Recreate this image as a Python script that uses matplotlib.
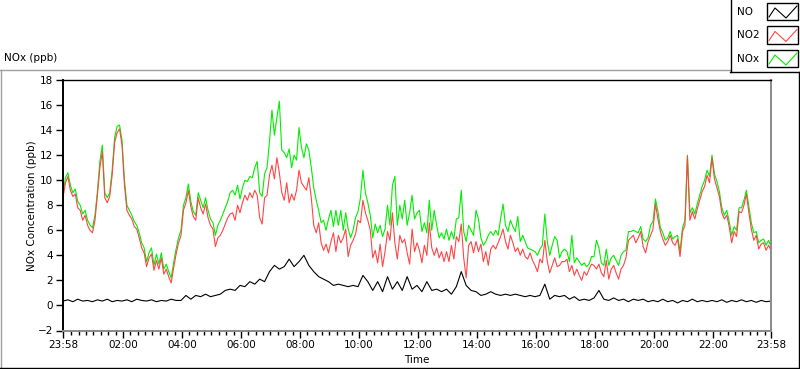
import matplotlib.pyplot as plt
import numpy as np
from matplotlib.lines import Line2D
from matplotlib.patches import Rectangle

# sample times, minutes after 23:58 (start of the record)
t_5min = np.arange(0, 1441, 5)
t_10min = np.arange(0, 1441, 10)

# NO2 (ppb), 5 minute samples, one row per hour
no2 = [
    8.6, 9.8, 10.3, 9.2, 8.7, 8.9, 7.8, 7.6, 6.8, 7.2, 6.4, 6.0,
    5.8, 6.8, 8.8, 11.0, 12.3, 8.6, 8.2, 8.7, 10.4, 13.0, 13.8, 14.1,
    12.8, 9.6, 7.6, 7.2, 6.9, 6.3, 6.1, 5.4, 4.6, 4.2, 3.1, 3.8,
    4.1, 2.8, 3.6, 2.9, 3.8, 2.5, 2.9, 2.3, 1.8, 3.0, 4.1, 5.0,
    5.6, 7.6, 8.2, 9.2, 7.9, 7.1, 6.8, 8.6, 7.8, 7.3, 8.1, 7.0,
    6.4, 6.1, 4.7, 5.4, 5.6, 6.0, 6.5, 7.0, 7.3, 7.4, 6.8, 8.0,
    7.4, 8.2, 8.8, 8.4, 9.0, 8.6, 9.2, 8.8, 7.0, 6.5, 8.6, 8.8,
    10.4, 11.2, 10.1, 11.8, 10.6, 9.0, 8.4, 9.8, 8.2, 8.9, 8.4, 9.2,
    10.8, 9.8, 9.5, 9.2, 10.2, 8.6, 6.4, 5.8, 6.6, 5.0, 4.4, 4.9,
    4.2, 5.1, 5.8, 4.3, 5.6, 5.0, 5.4, 6.1, 3.9, 4.8, 5.2, 5.7,
    6.8, 6.6, 8.4, 7.4, 6.8, 6.0, 3.8, 4.4, 3.4, 4.9, 3.1, 4.3,
    5.9, 5.2, 7.4, 5.0, 3.7, 5.6, 5.0, 5.3, 4.2, 3.3, 6.1, 4.3,
    5.0, 4.4, 3.4, 4.8, 4.0, 6.6, 4.6, 4.0, 4.6, 3.8, 4.3, 3.5,
    4.3, 3.5, 4.8, 3.7, 5.5, 5.1, 6.5, 3.8, 2.2, 4.8, 5.1, 4.2,
    5.1, 4.3, 4.9, 3.5, 4.3, 3.2, 4.5, 4.8, 4.5, 5.0, 5.5, 6.1,
    5.1, 4.5, 5.6, 5.0, 4.3, 4.6, 4.0, 4.5, 3.9, 3.7, 4.2, 3.6,
    3.2, 2.7, 3.7, 3.4, 5.2, 3.5, 2.6, 3.2, 3.8, 3.1, 3.2, 3.5,
    3.5, 3.7, 2.7, 3.2, 2.4, 2.9, 2.4, 2.0, 2.7, 2.4, 2.9, 3.3,
    3.2, 2.9, 3.3, 2.6, 2.3, 3.6, 2.1, 2.9, 3.2, 2.6, 2.1, 2.9,
    3.2, 3.8, 5.2, 5.4, 5.6, 5.0, 5.4, 5.9, 4.7, 4.2, 5.1, 5.6,
    6.1, 8.1, 6.9, 5.9, 5.3, 4.8, 5.1, 5.6, 5.0, 4.8, 5.3, 3.9,
    5.9, 6.4, 11.9, 6.8, 7.5, 6.9, 7.7, 8.4, 9.1, 9.5, 10.4, 9.8,
    11.8, 10.1, 9.4, 8.7, 7.4, 6.9, 7.2, 6.3, 5.0, 5.9, 5.5, 7.5,
    7.4, 8.0, 8.9, 7.4, 6.1, 5.2, 5.6, 4.5, 4.9, 5.0, 4.4, 4.8, 4.4,
]

# NOx (ppb), 5 minute samples
nox = [
    8.9, 10.2, 10.6, 9.6, 9.0, 9.3, 8.3, 8.0, 7.3, 7.6, 6.8, 6.4,
    6.2, 7.2, 9.1, 11.5, 12.8, 9.0, 8.6, 9.0, 10.8, 13.4, 14.3, 14.4,
    13.2, 10.0, 8.0, 7.6, 7.2, 6.7, 6.4, 5.8, 5.0, 4.6, 3.5, 4.2,
    4.6, 3.2, 4.1, 3.3, 4.2, 2.9, 3.3, 2.7, 2.2, 3.4, 4.5, 5.4,
    6.0, 8.0, 8.6, 9.7, 8.3, 7.5, 7.2, 9.0, 8.4, 7.8, 8.6, 7.6,
    6.9, 6.6, 5.6, 6.4, 6.8, 7.3, 7.8, 8.3, 9.0, 9.2, 8.8, 9.6,
    8.5, 9.4, 10.0, 9.9, 10.3, 10.2, 11.0, 11.5, 9.0, 8.7, 10.5, 11.0,
    13.1, 15.6, 13.6, 15.0, 16.3, 12.4, 12.2, 11.8, 12.5, 11.0, 12.0, 11.6,
    14.2, 12.6, 11.8, 12.9, 12.4, 11.0, 9.4, 8.4, 7.6, 6.6, 6.8, 6.0,
    6.9, 7.6, 6.3, 7.6, 6.4, 7.6, 6.0, 7.4, 6.1, 5.4, 6.0, 7.0,
    7.5, 8.6, 10.8, 9.0, 8.2, 7.2, 5.4, 6.5, 5.8, 6.4, 5.5, 6.1,
    8.0, 6.4, 9.6, 10.3, 6.4, 8.0, 6.9, 8.4, 6.4, 7.4, 8.8, 6.9,
    7.4, 7.6, 5.9, 6.6, 5.8, 8.4, 6.0, 7.6, 6.4, 5.4, 5.8, 5.3,
    6.1, 5.2, 5.9, 5.3, 6.9, 7.0, 9.2, 5.9, 5.1, 6.4, 6.0, 5.6,
    7.6, 6.9, 5.4, 4.8, 5.1, 5.6, 5.9, 5.6, 6.0, 5.6, 6.9, 8.1,
    6.4, 5.9, 6.8, 6.3, 5.9, 7.1, 5.1, 5.6, 5.1, 4.6, 4.5, 4.4,
    4.3, 4.0, 4.5, 4.8, 7.3, 5.1, 4.0, 4.8, 5.5, 5.2, 3.8, 4.3,
    4.5, 4.3, 3.5, 5.6, 3.4, 3.8, 3.5, 3.2, 3.4, 3.1, 3.3, 3.9,
    3.9, 5.2, 4.6, 3.4, 3.2, 4.5, 3.2, 3.8, 4.0, 3.6, 3.2, 4.0,
    4.3, 4.4, 5.9, 5.9, 6.0, 5.9, 5.8, 6.3, 5.3, 5.1, 5.4, 6.4,
    6.7, 8.5, 7.5, 6.2, 5.8, 5.2, 5.4, 5.9, 5.3, 5.5, 5.6, 4.3,
    6.2, 6.8, 12.0, 7.4, 7.8, 7.3, 8.1, 8.8, 9.5, 10.0, 10.8, 10.3,
    12.0, 10.5, 9.9, 9.1, 7.8, 7.2, 7.6, 6.7, 5.6, 6.3, 6.0, 7.8,
    7.8, 8.4, 9.2, 7.9, 6.6, 5.8, 5.9, 5.0, 5.2, 5.3, 4.8, 5.2, 4.7,
]

# NO (ppb), 10 minute samples
no = [
    0.35, 0.45, 0.3, 0.5, 0.35, 0.4, 0.3, 0.45, 0.35, 0.5, 0.3, 0.4,
    0.35, 0.45, 0.3, 0.5, 0.4, 0.35, 0.45, 0.3, 0.4, 0.35, 0.5, 0.4,
    0.4, 0.8, 0.5, 0.8, 0.7, 0.9, 0.7, 0.8, 0.9, 1.2, 1.3, 1.2,
    1.6, 1.5, 1.9, 1.7, 2.1, 1.9, 2.7, 3.2, 2.9, 3.1, 3.7, 3.1,
    3.5, 4.0, 3.2, 2.7, 2.3, 2.1, 1.9, 1.6, 1.7, 1.6, 1.5, 1.6,
    1.5, 2.4, 1.9, 1.2, 1.9, 1.1, 2.3, 1.3, 1.9, 1.2, 2.3, 1.3,
    1.6, 1.1, 1.9, 1.2, 1.3, 1.1, 1.3, 0.9, 1.5, 2.7, 1.6, 1.2,
    1.1, 0.8, 0.9, 1.1, 0.9, 0.8, 0.9, 0.8, 0.9, 0.8, 0.7, 0.8,
    0.7, 0.8, 1.7, 0.5, 0.8, 0.7, 0.8, 0.5, 0.7, 0.4, 0.5, 0.4,
    0.6, 1.2, 0.5, 0.4, 0.6, 0.4, 0.5, 0.3, 0.5, 0.4, 0.5, 0.3,
    0.4, 0.3, 0.5, 0.3, 0.4, 0.2, 0.4, 0.3, 0.5, 0.3, 0.4, 0.3,
    0.4, 0.3, 0.45, 0.25, 0.4, 0.3, 0.45, 0.3, 0.4, 0.25, 0.4, 0.3, 0.35,
]

tick_labels = ["23:58", "02:00", "04:00", "06:00", "08:00", "10:00", "12:00",
               "14:00", "16:00", "18:00", "20:00", "22:00", "23:58"]
tick_pos = [0] + [122 + 120 * i for i in range(11)] + [1440]
minor_pos = [m for m in range(17, 1440, 15) if (m - 2) % 120 != 0]

c_no, c_no2, c_nox = "black", "#ff4545", "#00ee00"

plt.rcParams["font.family"] = "DejaVu Sans"
plt.rcParams["font.size"] = 7.5

W, H = 800, 369
fig = plt.figure(figsize=(W / 100, H / 100), dpi=100)
ax = fig.add_axes([63 / W, 38.5 / H, 708 / W, 250.5 / H])

ax.plot(t_5min, nox, color=c_nox, lw=0.8)
ax.plot(t_5min, no2, color=c_no2, lw=0.8)
ax.plot(t_10min, no, color=c_no, lw=0.8)

ax.set_xlim(0, 1440)
ax.set_ylim(-2, 18)
ax.set_yticks(range(-2, 19, 2))
ax.set_xticks(tick_pos)
ax.set_xticklabels(tick_labels)
ax.set_xticks(minor_pos, minor=True)
ax.tick_params(axis="both", which="major", length=5, width=1, pad=2, colors="black")
ax.tick_params(axis="x", which="minor", length=3, width=1)

ax.spines["left"].set_linewidth(1.4)
ax.spines["top"].set_linewidth(1.0)
for s in ("right", "bottom"):
    ax.spines[s].set_color("#8a8a8a")
    ax.spines[s].set_linewidth(1.4)

ax.set_ylabel("NOx Concentration (ppb)")
ax.set_xlabel("Time")
ax.yaxis.set_label_coords((37 - 63) / 708, 0.5)
ax.xaxis.set_label_coords(0.5, (330.5 - 355) / 250.5)

fig.text(4 / W, 1 - 58 / H, "NOx (ppb)", ha="left", va="center")


def fig_line(xs, ys, **kw):
    fig.add_artist(Line2D([x / W for x in xs], [1 - y / H for y in ys],
                          transform=fig.transFigure, **kw))


# outer frame of the graph
fig_line([0, 730], [69.5, 69.5], color="#a0a0a0", lw=1)
fig_line([0.5, 0.5], [69.5, 369], color="#a0a0a0", lw=1)
fig_line([0, 800], [367.5, 367.5], color="black", lw=1)
fig_line([798.5, 798.5], [71.5, 369], color="black", lw=1)

# legend box
fig_line([730.5, 730.5], [0, 72], color="black", lw=1)
fig_line([730, 800], [71.5, 71.5], color="black", lw=1)
for i, (name, col) in enumerate([("NO", c_no), ("NO2", c_no2), ("NOx", c_nox)]):
    top = 3 + 23.5 * i
    fig.text(737 / W, 1 - (top + 9) / H, name, ha="left", va="center")
    fig.add_artist(Rectangle((767 / W, 1 - (top + 17) / H), 31 / W, 17 / H,
                             transform=fig.transFigure, facecolor="white",
                             edgecolor="black", lw=1))
    fig_line([769, 775, 786, 797], [top + 14, top + 5, top + 15, top + 3],
             color=col, lw=0.8)

fig.savefig("out.png", dpi=100)
